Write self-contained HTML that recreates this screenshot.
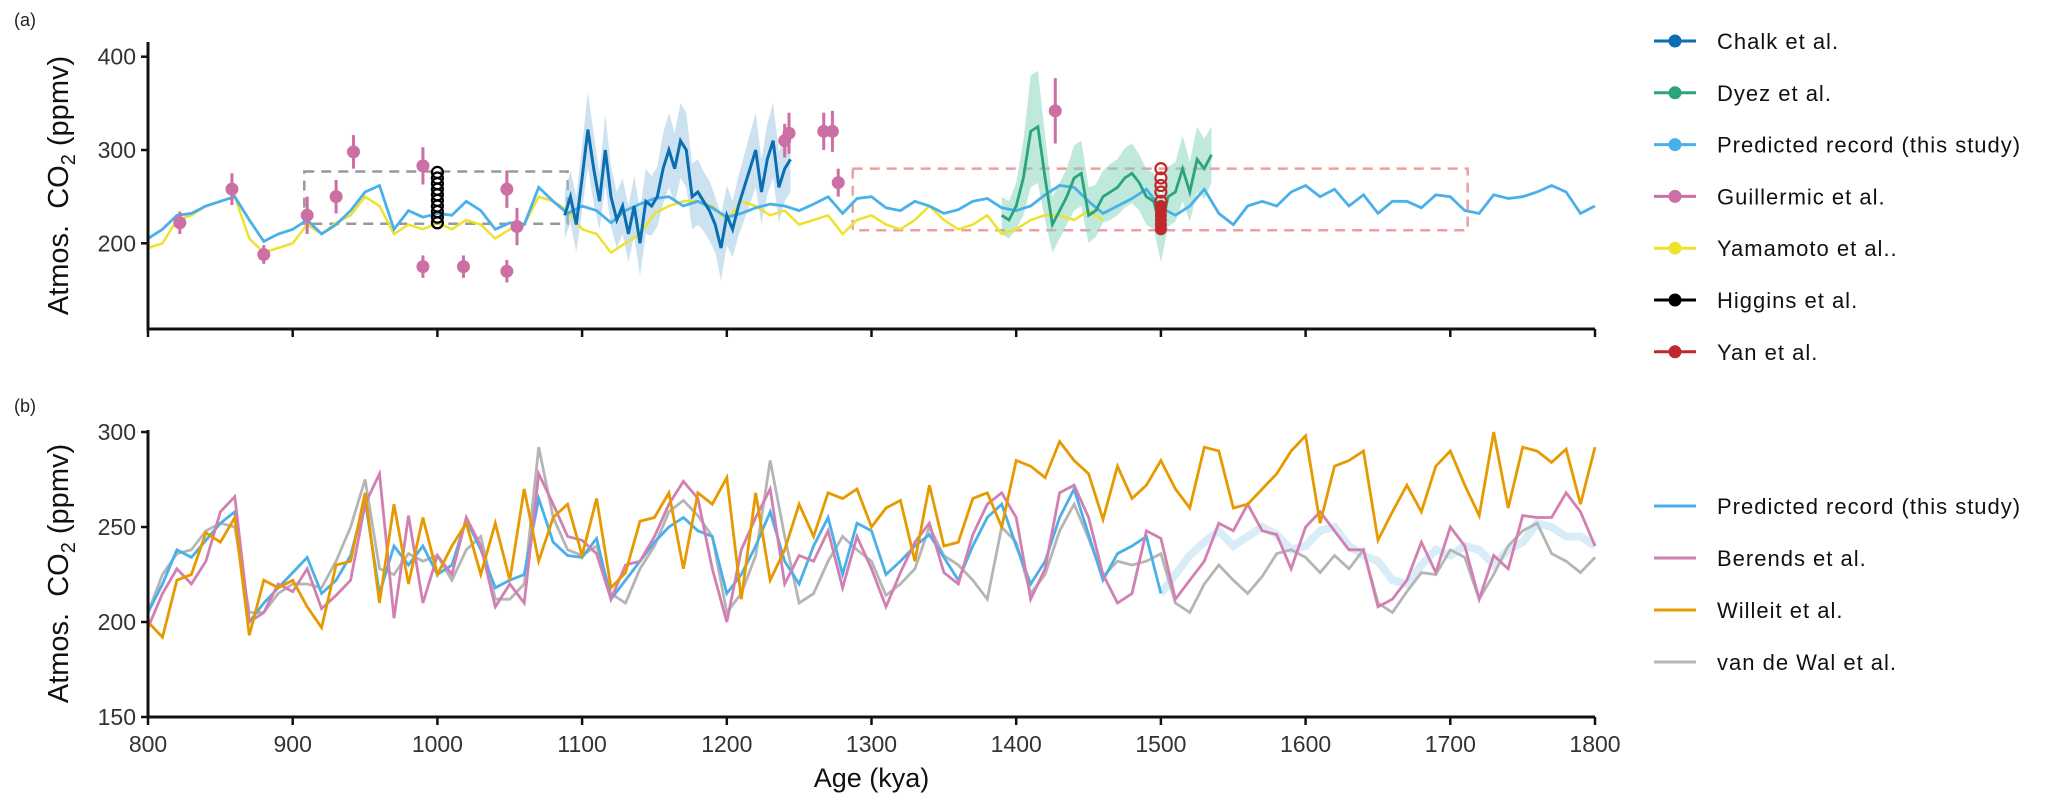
<!DOCTYPE html>
<html><head><meta charset="utf-8"><style>
html,body{margin:0;padding:0;background:#fff;}
svg{display:block;font-family:"Liberation Sans",sans-serif;}
</style></head><body>
<svg id="chart" width="2067" height="808" viewBox="0 0 2067 808"></svg>
<script>
// ---- Data ----
const ages10 = []; for (let a = 800; a <= 1800; a += 10) ages10.push(a);
const predictedA = [205,215,230,232,240,245,250,225,202,210,215,225,210,220,235,255,262,215,235,228,232,230,245,235,215,222,220,260,245,232,240,235,222,235,242,248,250,240,245,238,228,232,238,242,240,235,242,250,232,248,250,238,235,245,240,232,236,245,248,238,235,240,252,262,260,245,232,240,248,258,238,230,240,258,232,220,240,245,240,255,262,250,258,240,252,232,245,245,238,252,250,235,232,252,248,250,255,262,255,232,240];
const yamamotoAges = []; for (let a = 800; a <= 1460; a += 10) yamamotoAges.push(a);
const yamamoto = [195,200,225,230,240,245,250,205,190,195,200,220,210,222,230,250,240,210,220,215,222,215,225,220,205,215,220,250,245,235,215,210,190,200,210,232,240,245,245,240,225,245,240,230,235,220,225,230,210,225,230,220,215,225,240,225,215,220,230,210,215,225,230,230,225,235,225];
const chalkAges = []; for (let a = 1088; a <= 1244; a += 4) chalkAges.push(a);
const chalk = [230,250,220,270,322,280,245,300,250,225,240,210,240,200,245,240,250,280,300,280,310,300,250,255,245,235,220,195,230,215,240,260,280,300,255,290,310,260,280,290];
const chalkErr = [25,28,30,35,40,38,30,38,32,30,30,30,32,35,35,32,32,38,40,38,40,40,35,35,32,32,30,35,32,30,32,35,38,40,35,38,40,38,35,35];
const dyezAges = []; for (let a = 1390; a <= 1535; a += 5) dyezAges.push(a);
const dyez = [230,225,240,270,320,325,270,220,235,250,270,275,230,235,250,255,260,270,275,265,250,245,215,250,255,280,255,290,280,295];
const dyezErr = [20,20,25,40,60,60,45,30,30,30,35,35,30,28,28,30,30,32,32,30,30,30,35,32,32,35,32,35,32,30];
const guillAges = [822,858,880,910,930,942,990,990,1018,1048,1048,1055,1240,1243,1267,1273,1277,1427];
const guillVals = [222,258,188,230,250,298,283,175,175,258,170,218,310,318,320,320,265,342];
const guillErr  = [12,17,10,20,18,18,20,12,12,20,12,20,18,22,20,22,15,35];
const higgins = [222,228,234,240,246,252,258,264,270,276];
const yanOpen = [280,270,262,255,245];
const yanFilled = [240,235,230,225,220,215];
const predictedB = [205,220,238,234,243,252,258,200,210,218,226,234,215,222,235,264,215,240,230,240,225,230,254,238,218,222,225,265,242,235,234,244,212,222,232,242,250,255,248,245,215,225,240,258,232,220,240,255,225,252,248,225,232,240,246,234,222,240,255,262,240,220,232,255,270,246,222,236,240,245,215,225,235,242,248,240,245,250,246,238,240,248,250,240,235,232,222,220,230,238,235,240,238,230,238,242,252,250,245,245,240];
const berends = [197,215,228,220,232,258,266,200,205,220,216,228,207,214,222,262,278,202,256,210,235,225,255,240,208,220,210,278,262,245,243,236,212,230,232,245,262,274,265,228,200,238,255,270,220,235,232,248,218,245,228,208,226,242,252,226,220,246,262,268,255,212,228,268,272,255,225,210,215,248,244,212,222,232,252,248,262,248,246,228,250,258,248,238,238,208,212,222,242,226,250,240,212,235,228,256,255,255,268,258,240];
const willeit = [200,192,222,225,247,242,255,193,222,218,222,208,197,230,232,268,210,262,220,255,225,240,252,225,252,222,270,232,255,262,235,265,218,226,253,255,268,228,268,262,276,212,268,222,238,262,245,268,265,270,250,260,264,232,272,240,242,265,268,250,285,282,276,295,285,278,254,282,265,272,285,270,260,292,290,260,262,270,278,290,298,252,282,285,290,243,258,272,258,282,290,272,256,300,260,292,290,284,291,262,292];
const vandewal = [205,225,236,238,248,252,250,205,205,215,220,220,218,232,250,275,228,225,236,232,235,222,238,245,212,212,220,292,255,238,235,240,215,210,228,240,258,264,256,245,205,215,235,285,245,210,215,232,245,238,232,214,220,228,250,235,230,222,212,250,242,215,225,248,262,244,224,232,230,232,236,210,205,220,230,222,215,224,236,238,234,226,235,228,238,210,205,216,226,225,238,234,212,225,240,248,252,236,232,226,234];
const xTicks = [800,900,1000,1100,1200,1300,1400,1500,1600,1700,1800];
const yTicksA = [200,300,400];
const yTicksB = [150,200,250,300];

// ---- Scales ----
const X = a => 148 + (a - 800) * 1.447;
const YA = v => 243.3 - (v - 200) * 0.933;
const YB = v => 432 - (v - 300) * 1.9;
const NS = 'http://www.w3.org/2000/svg';
const svg = document.getElementById('chart');
function el(tag, attrs, parent) {
  const e = document.createElementNS(NS, tag);
  for (const k in attrs) e.setAttribute(k, attrs[k]);
  (parent || svg).appendChild(e);
  return e;
}
function pathFrom(xs, ys, Y) {
  return xs.map((a, i) => (i ? 'L' : 'M') + X(a).toFixed(1) + ',' + Y(ys[i]).toFixed(1)).join('');
}
function ribbon(xs, ys, err, Y) {
  let d = xs.map((a, i) => (i ? 'L' : 'M') + X(a).toFixed(1) + ',' + Y(ys[i] + err[i]).toFixed(1)).join('');
  for (let i = xs.length - 1; i >= 0; i--) d += 'L' + X(xs[i]).toFixed(1) + ',' + Y(ys[i] - err[i]).toFixed(1);
  return d + 'Z';
}

// ---- Panel A ----
const gA = el('g', {});


let t = el('text', {x: 14, y: 26, 'font-size': 18, fill: '#222'}, gA); t.textContent = '(a)';
 

// dashed boxes
let b1 = el('rect', {x: X(908), y: YA(277), width: X(1090) - X(908), height: YA(221) - YA(277), fill: 'none', stroke: '#999', 'stroke-width': 2.5, 'stroke-dasharray': '10,7'}, gA);
 
let b2 = el('rect', {x: X(1287), y: YA(280), width: X(1712) - X(1287), height: YA(214) - YA(280), fill: 'none', stroke: '#eaa0a0', 'stroke-width': 2.5, 'stroke-dasharray': '10,7'}, gA);
 

let r = el('path', {d: ribbon(chalkAges, chalk, chalkErr, YA), fill: '#9ac6e3', opacity: 0.5}, gA);
 
r = el('path', {d: ribbon(dyezAges, dyez, dyezErr, YA), fill: '#7fd3b5', opacity: 0.5}, gA);
 

let p = el('path', {d: pathFrom(yamamotoAges, yamamoto, YA), fill: 'none', stroke: '#ece32e', 'stroke-width': 2.5}, gA);
 
p = el('path', {d: pathFrom(ages10, predictedA, YA), fill: 'none', stroke: '#4ab0ea', 'stroke-width': 2.8}, gA);
 
p = el('path', {d: pathFrom(chalkAges, chalk, YA), fill: 'none', stroke: '#0a6eb0', 'stroke-width': 3}, gA);
 
p = el('path', {d: pathFrom(dyezAges, dyez, YA), fill: 'none', stroke: '#2aa37e', 'stroke-width': 2.8}, gA);
 

guillAges.forEach((a, i) => {
  const g = el('g', {}, gA);
  
  
  el('line', {x1: X(a), x2: X(a), y1: YA(guillVals[i] + guillErr[i]), y2: YA(guillVals[i] - guillErr[i]), stroke: '#cc6fa4', 'stroke-width': 3}, g);
  el('circle', {cx: X(a), cy: YA(guillVals[i]), r: 6.5, fill: '#cc6fa4'}, g);
});
higgins.forEach(v => {
  const c = el('circle', {cx: X(1000), cy: YA(v), r: 5.5, fill: 'none', stroke: '#000', 'stroke-width': 2.2}, gA);
   
});
yanOpen.forEach(v => {
  const c = el('circle', {cx: X(1500), cy: YA(v), r: 5.5, fill: 'none', stroke: '#c0282b', 'stroke-width': 2.2}, gA);
   
});
yanFilled.forEach(v => {
  const c = el('circle', {cx: X(1500), cy: YA(v), r: 6, fill: '#c0282b'}, gA);
   
});

// axes A
let ax = el('path', {d: `M148,42V329H${X(1800)}`, fill: 'none', stroke: '#111', 'stroke-width': 3}, gA);
 
xTicks.forEach(v => {
  const l = el('line', {x1: X(v), x2: X(v), y1: 329, y2: 337, stroke: '#111', 'stroke-width': 2.5}, gA);
   
});
yTicksA.forEach(v => {
  el('line', {x1: 141, x2: 148, y1: YA(v), y2: YA(v), stroke: '#111', 'stroke-width': 2.5}, gA);
  const tt = el('text', {x: 136, y: YA(v) + 8, 'text-anchor': 'end', 'font-size': 23, fill: '#333'}, gA);
  tt.textContent = v;
   
});
let yt = el('text', {transform: `translate(68,${(42 + 329) / 2}) rotate(-90)`, 'text-anchor': 'middle', 'font-size': 29, fill: '#111'}, gA);
yt.innerHTML = 'Atmos.&#160; CO<tspan font-size="20" dy="7">2</tspan><tspan dy="-7"> (ppmv)</tspan>';
 

// ---- Panel B ----
const gB = el('g', {});


t = el('text', {x: 14, y: 412, 'font-size': 18, fill: '#222'}, gB); t.textContent = '(b)';
 

const predSolidAges = ages10.filter(a => a <= 1500);
const predSolid = predictedB.slice(0, predSolidAges.length);
const predFadeAges = ages10.filter(a => a >= 1500);
const predFade = predictedB.slice(predSolidAges.length - 1);
p = el('path', {d: pathFrom(predFadeAges, predFade, YB), fill: 'none', stroke: '#cfe8f8', 'stroke-width': 8, opacity: 0.8}, gB);
 
p = el('path', {d: pathFrom(ages10, vandewal, YB), fill: 'none', stroke: '#b5b5b5', 'stroke-width': 2.8}, gB);
 
p = el('path', {d: pathFrom(predSolidAges, predSolid, YB), fill: 'none', stroke: '#4ab0ea', 'stroke-width': 2.8}, gB);
 
p = el('path', {d: pathFrom(ages10, berends, YB), fill: 'none', stroke: '#d27fb2', 'stroke-width': 2.8}, gB);
 
p = el('path', {d: pathFrom(ages10, willeit, YB), fill: 'none', stroke: '#e69a00', 'stroke-width': 2.8}, gB);
 

ax = el('path', {d: `M148,430V717H${X(1800)}`, fill: 'none', stroke: '#111', 'stroke-width': 3}, gB);
 
xTicks.forEach(v => {
  el('line', {x1: X(v), x2: X(v), y1: 717, y2: 725, stroke: '#111', 'stroke-width': 2.5}, gB);
  const tt = el('text', {x: X(v), y: 752, 'text-anchor': 'middle', 'font-size': 23, fill: '#333'}, gB);
  tt.textContent = v;
   
});
yTicksB.forEach(v => {
  el('line', {x1: 141, x2: 148, y1: YB(v), y2: YB(v), stroke: '#111', 'stroke-width': 2.5}, gB);
  const tt = el('text', {x: 136, y: YB(v) + 8, 'text-anchor': 'end', 'font-size': 23, fill: '#333'}, gB);
  tt.textContent = v;
   
});
yt = el('text', {transform: `translate(68,${(430 + 717) / 2}) rotate(-90)`, 'text-anchor': 'middle', 'font-size': 29, fill: '#111'}, gB);
yt.innerHTML = 'Atmos.&#160; CO<tspan font-size="20" dy="7">2</tspan><tspan dy="-7"> (ppmv)</tspan>';
 
let xt = el('text', {x: (148 + X(1800)) / 2, y: 787, 'text-anchor': 'middle', 'font-size': 27, fill: '#111'}, gB);
xt.textContent = 'Age (kya)';
 

// ---- Legends ----
const legA = [['Chalk et al.', '#0a6eb0'], ['Dyez et al.', '#2aa37e'], ['Predicted record (this study)', '#4ab0ea'], ['Guillermic et al.', '#cc6fa4'], ['Yamamoto et al..', '#ece32e'], ['Higgins et al.', '#000'], ['Yan et al.', '#c0282b']];
const legB = [['Predicted record (this study)', '#4ab0ea'], ['Berends et al.', '#d27fb2'], ['Willeit et al.', '#e69a00'], ['van de Wal et al.', '#b5b5b5']];
legA.forEach((e, i) => {
  const y = 41 + i * 51.8;
  const g = el('g', {});
  
  
  el('line', {x1: 1654, x2: 1696, y1: y, y2: y, stroke: e[1], 'stroke-width': 3}, g);
  el('circle', {cx: 1675, cy: y, r: 6.5, fill: e[1]}, g);
  const tx = el('text', {x: 1717, y: y + 8, 'font-size': 22, fill: '#111', 'letter-spacing': '1'}, g);
  tx.textContent = e[0];
});
legB.forEach((e, i) => {
  const y = 506 + i * 52;
  const g = el('g', {});
  
  
  el('line', {x1: 1654, x2: 1696, y1: y, y2: y, stroke: e[1], 'stroke-width': 3}, g);
  const tx = el('text', {x: 1717, y: y + 8, 'font-size': 22, fill: '#111', 'letter-spacing': '1'}, g);
  tx.textContent = e[0];
});
</script>
</body></html>
